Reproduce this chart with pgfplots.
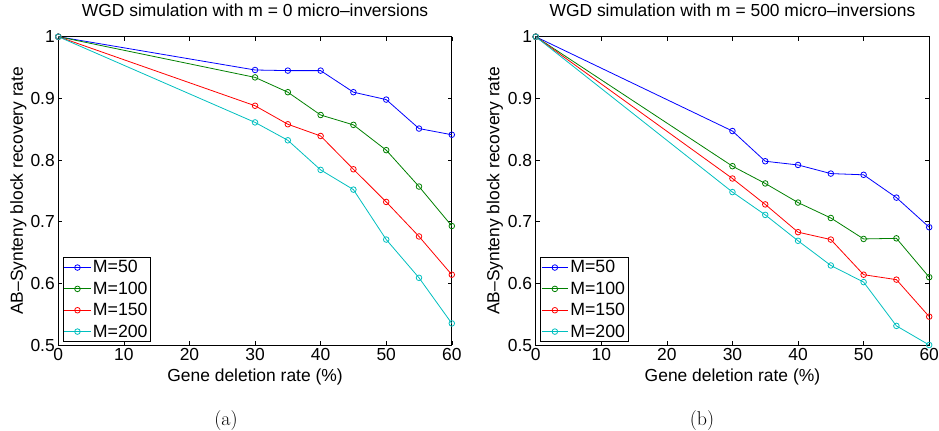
\documentclass[border=0pt]{standalone}
\usepackage{fontspec}
\usepackage{pgfplots}
\pgfplotsset{compat=1.18}
\newfontfamily\arial{Liberation Sans}
\newcommand\af{\arial\fontsize{17.5}{20}\selectfont}
\newcommand\lf{\arial\fontsize{17.8}{20}\selectfont}
\definecolor{mblue}{rgb}{0,0,1}
\definecolor{mgreen}{rgb}{0,0.5,0}
\definecolor{mred}{rgb}{1,0,0}
\definecolor{mcyan}{rgb}{0,0.75,0.75}

\pgfplotstableread{
x M50 M100 M150 M200
0  1.000 1.000 1.000 1.000
30 0.946 0.934 0.888 0.861
35 0.945 0.910 0.858 0.832
40 0.945 0.873 0.839 0.784
45 0.910 0.857 0.785 0.752
50 0.898 0.816 0.732 0.671
55 0.851 0.757 0.676 0.609
60 0.841 0.693 0.614 0.535
}\tableA

\pgfplotstableread{
x M50 M100 M150 M200
0  1.000 1.000 1.000 1.000
30 0.847 0.790 0.770 0.748
35 0.798 0.762 0.728 0.711
40 0.792 0.731 0.683 0.669
45 0.778 0.706 0.671 0.629
50 0.776 0.672 0.614 0.602
55 0.739 0.673 0.606 0.531
60 0.691 0.610 0.546 0.500
}\tableB

\pgfplotsset{
  matstyle/.style={
    scale only axis,
    anchor=south west,
    width=393.5bp, height=308.3bp,
    xmin=0, xmax=60, ymin=0.5, ymax=1,
    xtick={0,10,20,30,40,50,60},
    ytick={0.5,0.6,0.7,0.8,0.9,1},
    yticklabels={0.5,0.6,0.7,0.8,0.9,1},
    xticklabels={0,10,20,30,40,50,60},
    tick align=inside,
    major tick length=4bp,
    tick style={black, line width=0.5pt},
    axis line style={black, line width=0.8pt},
    tick label style={font=\af},
    label style={font=\af},
    title style={font=\af, at={(axis description cs:0.5,1)}, anchor=base, yshift=14bp},
    xlabel style={at={(axis description cs:0.5,0)}, anchor=base, yshift=-37bp},
    xlabel={Gene deletion rate (\%)},
    ylabel={AB–Synteny block recovery rate},
    /pgf/number format/assume math mode=true,
    legend cell align=left,
    legend style={font=\lf, at={(axis description cs:0.011,0.010)}, anchor=south west,
      draw=black, line width=0.8pt, inner sep=1pt, row sep=3.5pt,
      nodes={inner sep=2pt}},
    legend image code/.code={\draw[mark repeat=2,mark phase=2,line width=0.8pt] plot coordinates {(0cm,0cm) (0.46cm,0cm) (0.92cm,0cm)};},
    every axis plot/.append style={line width=0.8pt, mark=o, mark size=2.8bp, mark options={line width=0.8pt}},
  }
}

\begin{document}
\begin{tikzpicture}
\path[use as bounding box] (0,0) rectangle (939bp,431bp);
\begin{axis}[matstyle, at={(58.3bp,86bp)},
  title={WGD simulation with m = 0 micro–inversions},
  ylabel style={at={(axis description cs:-0.1015,0.5)}, anchor=center}]
\addplot[mblue] table[x=x,y=M50] {\tableA};
\addplot[mgreen] table[x=x,y=M100] {\tableA};
\addplot[mred] table[x=x,y=M150] {\tableA};
\addplot[mcyan] table[x=x,y=M200] {\tableA};
\legend{M=50,M=100,M=150,M=200}
\end{axis}
\begin{axis}[matstyle, at={(535.7bp,86bp)},
  title={WGD simulation with m = 500 micro–inversions},
  ylabel style={at={(axis description cs:-0.104,0.5)}, anchor=center}]
\addplot[mblue] table[x=x,y=M50] {\tableB};
\addplot[mgreen] table[x=x,y=M100] {\tableB};
\addplot[mred] table[x=x,y=M150] {\tableB};
\addplot[mcyan] table[x=x,y=M200] {\tableB};
\legend{M=50,M=100,M=150,M=200}
\end{axis}
\node[font=\fontsize{20}{24}\selectfont, anchor=base] at (226bp,6bp) {(a)};
\node[font=\fontsize{20}{24}\selectfont, anchor=base] at (702bp,6bp) {(b)};
\end{tikzpicture}
\end{document}
